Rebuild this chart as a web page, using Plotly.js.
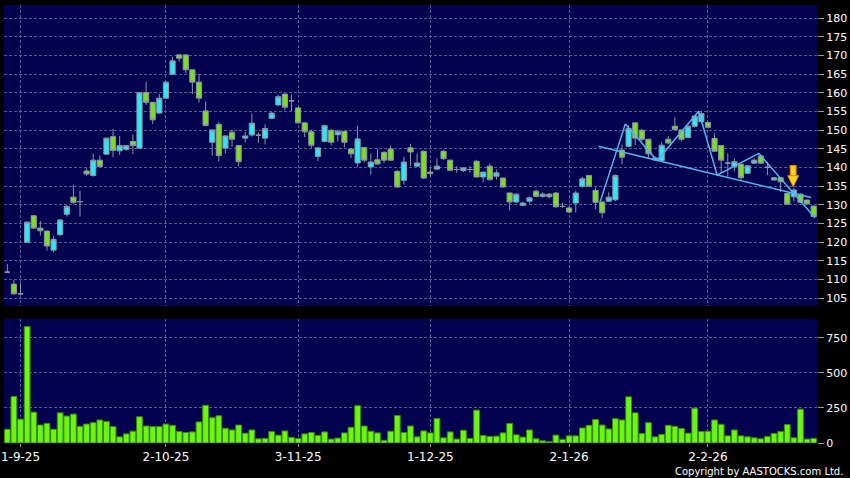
<!DOCTYPE html>
<html>
<head>
<meta charset="utf-8">
<script src="https://cdn.plot.ly/plotly-3.0.1.min.js"></script>
<style>html,body{margin:0;padding:0;background:#000;}#chart{width:850px;height:478px;}</style>
</head>
<body>
<div id="chart"></div>
<script>
// ---- data (trading-day index 0..122, 28-Aug-2025 .. 27-Feb-2026) ----
const openP = [112,108.8,106.2,120,127.1,123.8,123,117.9,122,127.5,
132.1,130.9,139.1,137.9,142,143.6,148.3,144.5,144.9,147,
145.2,160.1,157.5,154.6,158.6,165,170.2,170.2,166.2,162.9,
155.2,146.8,151.6,145.2,149.5,145.9,147.9,148.75,148.7,147.9,
153.2,156.8,159.7,157.9,156,152,149.6,143,147,150,
148.8,149.7,145,141.25,145.4,140.2,142.1,144.1,145,139,
136.6,145.3,140.4,144.4,138.8,139.6,144.4,142,139.5,139.2,
139.5,141.7,137.5,140.4,137.7,137.2,133.2,130.8,129.9,131,
133.7,132.3,132.9,133.2,129.6,129.2,130.5,135,137.9,133.9,
130.8,131,131.4,144.7,145.7,152,150,147.6,142.6,141.9,
147.6,151.1,150.1,148.1,151.1,152.3,152.1,147.8,145.9,141.2,
140.3,140.9,138.5,141.2,143.1,140.1,136.7,137.3,133.1,132.2,
132.9,131.3,129.7];
const highP = [114.2,109.9,109,125.6,127.3,125.7,123.2,121.7,126.2,130,
135.4,133.8,139.8,143.7,143.2,148,150.4,148.5,146,148.9,
160.1,163,157.6,159.7,163,169.7,170.4,170.3,166.3,165.1,
157.7,150.1,152.3,148.6,150.1,146,149.5,154.5,149.4,151.6,
155,159.5,159.8,159.6,156.2,152.1,150.2,145.4,151.5,150.2,
150.2,149.8,145.2,151.25,145.5,143.75,145,144.3,145.9,139.3,
142.9,146.4,143.75,144.5,139.9,142.4,144.8,142.1,140.4,140.2,
140.4,142.1,138.9,141.1,139.5,137.3,133.3,133.2,130.9,132.3,
134.1,133.4,133.2,133.5,130.6,129.6,133.8,137.5,138,134.6,
130.9,133.4,138.2,146.2,151.4,152.1,150.4,147.7,143,146.8,
148.5,153.4,150.2,151.3,154,155.2,152.3,149.2,146,143.8,
142.5,141,140.7,142.5,143.5,141.6,137.5,137.5,133.3,134.5,
133.1,131.5,129.8];
const lowP = [111.7,106,106,120,123.6,121.8,117.8,117.3,121.8,126.9,
130.3,126.9,137.8,137.6,140.1,143.4,142.8,143.4,144.5,143.6,
145,156.8,151.7,154.4,158.4,165,168.4,165.3,159.7,157.4,
151,143.2,141.6,143.8,145.6,140.3,146.8,148.3,146.7,146.2,
153,156.5,155.4,155.1,151.8,148.2,145.3,141.7,146.8,146,
147,145.4,142.6,140.2,141.4,138.1,140.8,141.2,141.8,134.5,
135.5,140.4,140.2,137,137.7,139.3,142.1,139.2,138.6,138.8,
138.6,137.3,136.1,136.5,136.8,134.7,128.5,130.5,129.6,130.4,
132.1,131.9,131.8,129.3,129.2,127.8,128,134.6,134.9,128.9,
126.5,130.8,131,140.9,145.5,146,147,142.5,141.8,141.6,
146.3,149.9,147,147.8,150.8,152,150.5,144.2,138.5,137.6,
139,136.7,138.3,141,141,138,136.5,133.5,130,130.9,
130.5,130.1,126.7];
const closeP = [112,106.2,106.2,125.4,123.8,123.1,119,120.8,126,129.6,
130.7,130.9,138.3,142,140.3,147.9,144.6,145.9,145.9,145.9,
160.1,157.5,152.8,158.6,162.9,168.6,169.3,166.2,162.9,158.6,
151.3,150.1,143.2,148.5,147.6,141.6,148.5,151.9,148.7,150.5,
154.6,159,156.2,157.9,152,149.6,146,145.3,151.25,146.8,
149.7,146.8,143.7,147.7,142,141.5,141,142,142,134.8,
141.5,144.2,141.25,137.2,138.4,140.4,142.4,139.3,139.5,139.9,
139.5,137.5,138.8,136.8,138.6,134.8,130.8,132.9,130.5,131.9,
132.3,132.9,132.2,129.5,129.6,128.1,133.2,137,135,130.7,
127.9,132.1,137.9,142.8,150.5,147.9,147.6,143.7,142.1,146,
146.6,150.2,147.6,151.1,153.8,154.5,150.8,144.4,142,141.2,
141.6,137.3,140.5,142,141.2,140.1,137.3,136.2,130.2,134,
130.7,130.3,126.9];
const volume = [98,332,170,829,220,128,140,98,215,192,
206,119,135,145,164,152,117,44,65,84,
187,121,117,117,135,126,82,75,79,150,
269,180,194,105,93,128,70,93,30,33,
82,56,86,40,33,65,75,54,79,28,
35,72,112,266,121,84,72,19,84,196,
75,121,44,86,72,175,37,79,28,91,
33,234,54,47,49,72,140,58,42,93,
30,16,9,56,26,51,51,107,126,168,
128,100,173,164,329,215,68,145,44,61,
126,119,103,70,248,82,84,164,133,51,
93,51,44,37,30,47,68,82,131,37,
241,28,33];
const tickIdx = [2,24,44,64,85,106];
const tickText = ['1-9-25','2-10-25','3-11-25','1-12-25','2-1-26','2-2-26'];
// drawn pattern lines (index, price)
const neckX = [89.45,121.6];
const neckY = [145.7,132.0];
const zigX = [89.7,93.5,98.3,104.6,107.4,113.7,122.2];
const zigY = [130.9,151.7,141.9,155.1,138.0,143.8,126.6];
// down arrow marker
const arrowX = [118.9];
const arrowTop = [140.7];
const arrowHeadBase = [137.8];
const arrowTip = [134.9];

const idx = openP.map((_, i) => i);

const GRID = '#5a5a94';
const traces = [
  {
    type: 'candlestick', x: idx, open: openP, high: highP, low: lowP, close: closeP,
    xaxis: 'x', yaxis: 'y',
    increasing: {fillcolor: '#33E4F2', line: {color: '#8A98A6', width: 1}},
    decreasing: {fillcolor: '#7EDC22', line: {color: '#8A98A6', width: 1}},
    whiskerwidth: 0, hoverinfo: 'skip', showlegend: false
  },
  {
    type: 'bar', x: idx, y: volume, xaxis: 'x', yaxis: 'y2',
    marker: {color: '#6CF514', line: {color: '#3A8A00', width: 1}},
    hoverinfo: 'skip', showlegend: false
  },
  {
    type: 'scatter', mode: 'lines', x: neckX, y: neckY, xaxis: 'x', yaxis: 'y',
    line: {color: '#58B4EC', width: 1.5}, hoverinfo: 'skip', showlegend: false
  },
  {
    type: 'scatter', mode: 'lines', x: zigX, y: zigY, xaxis: 'x', yaxis: 'y',
    line: {color: '#58B4EC', width: 1.5}, hoverinfo: 'skip', showlegend: false
  },
  {
    type: 'scatter', mode: 'lines', x: [arrowX[0], arrowX[0]], y: [arrowTop[0], arrowHeadBase[0]],
    xaxis: 'x', yaxis: 'y', line: {color: '#D88A00', width: 7}, hoverinfo: 'skip', showlegend: false
  },
  {
    type: 'scatter', mode: 'lines', x: [arrowX[0], arrowX[0]], y: [arrowTop[0] - 0.25, arrowHeadBase[0]],
    xaxis: 'x', yaxis: 'y', line: {color: '#FFD21F', width: 4.5}, hoverinfo: 'skip', showlegend: false
  },
  {
    type: 'scatter', mode: 'markers', x: arrowX, y: arrowTip, xaxis: 'x', yaxis: 'y',
    marker: {symbol: 'arrow-down', size: 11, color: '#FFD21F', line: {color: '#D88A00', width: 1}},
    hoverinfo: 'skip', showlegend: false
  }
];

const tickFont = {family: 'DejaVu Sans', size: 12, color: '#FFFFFF'};
const layout = {
  width: 850, height: 478,
  margin: {l: 4, r: 33, t: 5, b: 35, pad: 0},
  paper_bgcolor: '#000000', plot_bgcolor: '#02024E',
  font: {family: 'DejaVu Sans', color: '#FFFFFF'},
  showlegend: false,
  boxgap: 0.22, boxgroupgap: 0, bargap: 0.12,
  xaxis: {
    domain: [0, 1], anchor: 'y2', range: [-0.5, 122.5],
    tickmode: 'array', tickvals: tickIdx, ticktext: tickText,
    showgrid: true, gridcolor: GRID, griddash: '3px,2px', gridwidth: 1,
    ticks: 'outside', ticklen: 3, tickcolor: '#9a9a9a',
    tickfont: tickFont, zeroline: false, showline: false,
    rangeslider: {visible: false}, fixedrange: true
  },
  yaxis: {
    domain: [0.3128, 1], anchor: 'x', side: 'right', range: [102.94, 183.56],
    tickmode: 'linear', tick0: 105, dtick: 5,
    showgrid: true, gridcolor: GRID, griddash: '3px,2px', gridwidth: 1,
    ticks: 'outside', ticklen: 6, tickcolor: '#9a9a9a',
    tickfont: {family: 'DejaVu Sans', size: 11, color: '#FFFFFF'},
    zeroline: false, showline: false, fixedrange: true
  },
  yaxis2: {
    domain: [0, 0.2831], anchor: 'x', side: 'right', range: [0, 883],
    tickmode: 'array', tickvals: [0, 250, 500, 750], ticktext: ['0', '250', '500', '750'],
    showgrid: true, gridcolor: GRID, griddash: '3px,2px', gridwidth: 1,
    ticks: 'outside', ticklen: 6, tickcolor: '#9a9a9a',
    tickfont: {family: 'DejaVu Sans', size: 11, color: '#FFFFFF'},
    zeroline: false, showline: false, fixedrange: true
  },
  annotations: [{
    text: 'Copyright by AASTOCKS.com Ltd.', xref: 'paper', yref: 'paper',
    x: 1.0344, y: -0.064, xanchor: 'right', yanchor: 'middle', showarrow: false,
    font: {family: 'DejaVu Sans', size: 10, color: '#FFFFFF'}
  }]
};

Plotly.newPlot('chart', traces, layout, {displayModeBar: false, staticPlot: true});
</script>
</body>
</html>
